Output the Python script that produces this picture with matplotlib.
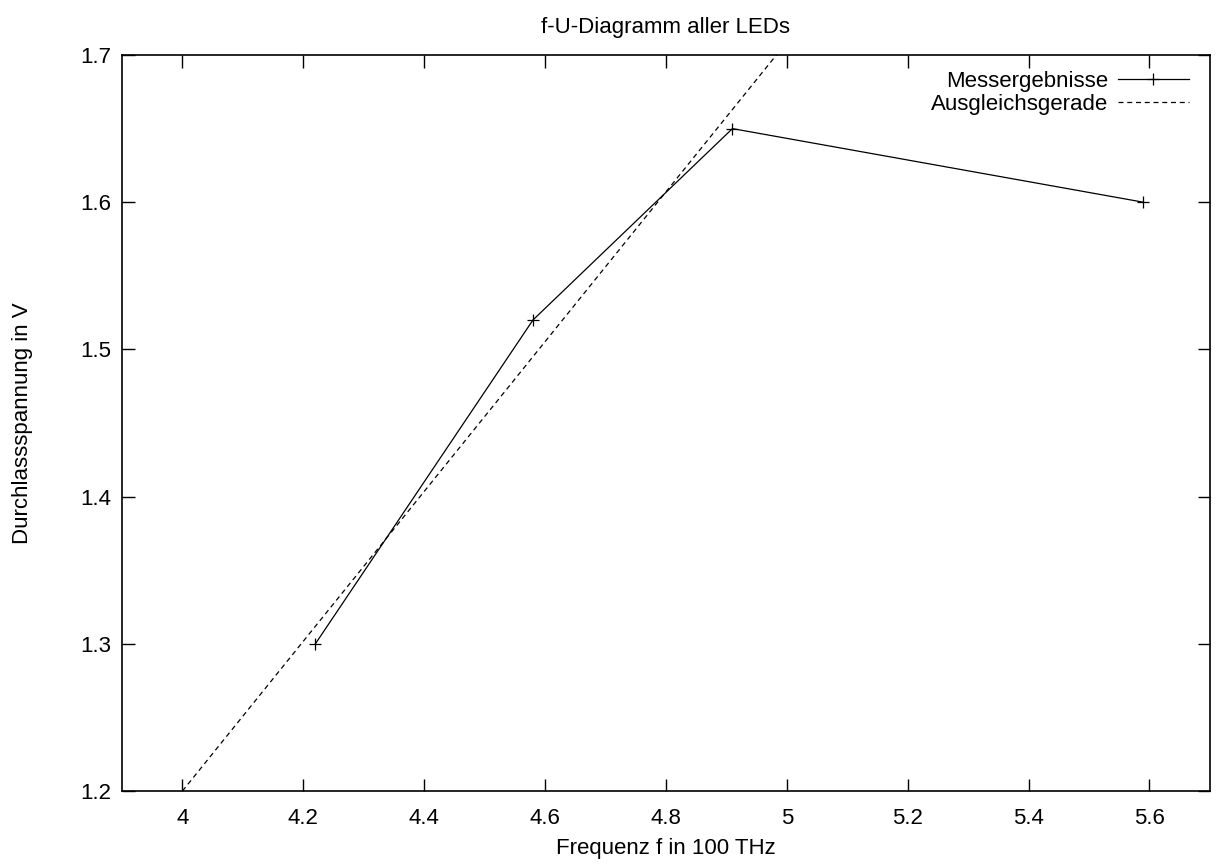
import matplotlib
matplotlib.use('Agg')
import matplotlib.pyplot as plt
import numpy as np

# Messwerte
freq = [4.22, 4.58, 4.91, 5.59]   # f in 100 THz
volt = [1.30, 1.52, 1.65, 1.60]   # U in V

xticks = [4, 4.2, 4.4, 4.6, 4.8, 5, 5.2, 5.4, 5.6]
xtick_labels = ['4', '4.2', '4.4', '4.6', '4.8', '5', '5.2', '5.4', '5.6']
yticks = [1.2, 1.3, 1.4, 1.5, 1.6, 1.7]

# Ausgleichsgerade aus den ersten drei Punkten
m, b = np.polyfit(freq[:3], volt[:3], 1)

plt.rcParams['font.family'] = ['Liberation Sans', 'DejaVu Sans']
plt.rcParams['font.size'] = 16

fig = plt.figure(figsize=(12.17, 8.65), dpi=100)
ax = fig.add_axes([0.1002, 0.0855, 0.8940, 0.8509])

ax.plot(freq, volt, color='black', linewidth=0.9, marker='+', markersize=9,
        markeredgewidth=0.9, label='Messergebnisse')
xs = np.array([3.9, 5.7])
ax.plot(xs, m * xs + b, color='black', linewidth=0.9, linestyle=(0, (4, 3)),
        label='Ausgleichsgerade')

ax.set_xlim(3.9, 5.7)
ax.set_ylim(1.2, 1.7)
ax.set_xticks(xticks)
ax.set_xticklabels(xtick_labels)
ax.set_yticks(yticks)
ax.yaxis.set_major_formatter(matplotlib.ticker.FormatStrFormatter('%.1f'))
ax.tick_params(direction='in', length=9, width=1, top=True, right=True)
ax.tick_params(axis='x', pad=12)
ax.tick_params(axis='y', pad=8)
for s in ax.spines.values():
    s.set_linewidth(1.2)

ax.set_title('f-U-Diagramm aller LEDs', fontsize=16, pad=16)
ax.set_xlabel('Frequenz f in 100 THz', labelpad=7)
ax.set_ylabel('Durchlassspannung in V', labelpad=34)

ax.legend(loc='upper right', bbox_to_anchor=(0.995, 1.0), frameon=False,
          markerfirst=False, handlelength=3.2, borderaxespad=0.3,
          labelspacing=0.1, handletextpad=0.45)

fig.savefig('out.png', dpi=100)
